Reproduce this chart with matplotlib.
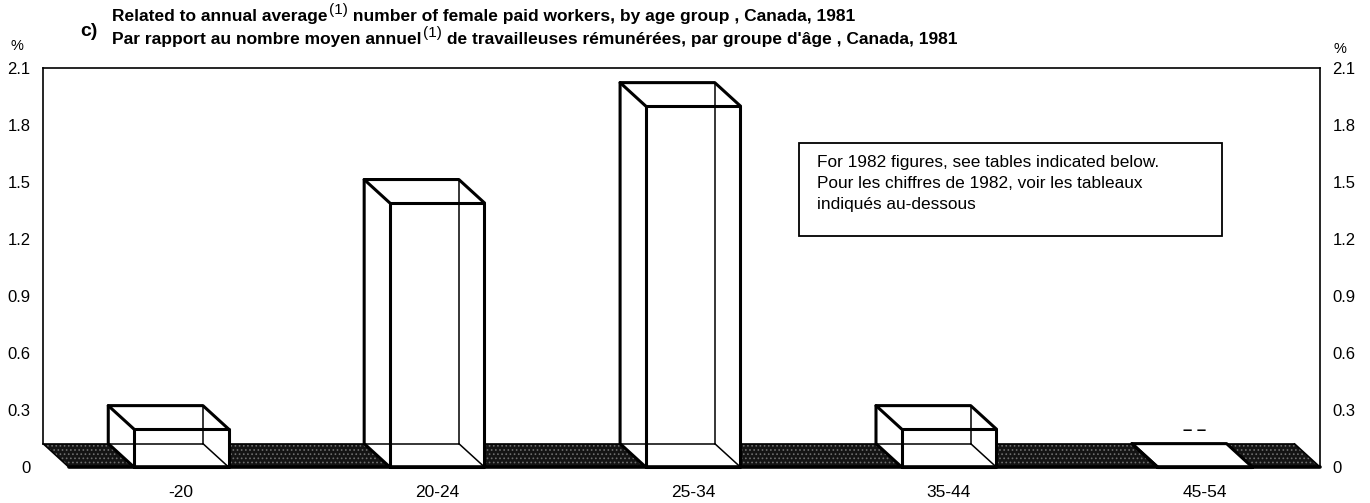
import matplotlib.pyplot as plt
from matplotlib.patches import Polygon, Rectangle
from matplotlib.ticker import FixedLocator

plt.rcParams['font.family'] = ['Liberation Sans', 'DejaVu Sans']
plt.rcParams['hatch.linewidth'] = 0.7

# rates per 100 female paid workers (%), Canada 1981
age_groups = ['-20', '20-24', '25-34', '35-44', '45-54']
rates = [0.2, 1.39, 1.9, 0.2, 0.0]

y_ticks = [0, 0.3, 0.6, 0.9, 1.2, 1.5, 1.8, 2.1]
y_labels = ['0', '0.3', '0.6', '0.9', '1.2', '1.5', '1.8', '2.1']

# title pieces: (text, superscript?)
title_en = [('Related to annual average', False), ('(1)', True),
            (' number of female paid workers, by age group , Canada, 1981', False)]
title_fr = [('Par rapport au nombre moyen annuel', False), ('(1)', True),
            (" de travailleuses rémunérées, par groupe d'âge , Canada, 1981", False)]
note_lines = ['For 1982 figures, see tables indicated below.',
              'Pour les chiffres de 1982, voir les tableaux',
              'indiqués au-dessous']
nil_mark = '– –'

# box geometry (data units)
BAR_W = 0.37
DX = 0.1     # depth shift to the left
DY = 0.123   # depth shift upwards
THICK = 2.2
THIN = 1.1
TITLE_SIZE = 12.5

fig = plt.figure(figsize=(13.7, 5.03), dpi=100)
ax = fig.add_axes([43 / 1370, 36 / 503, 1277 / 1370, 399 / 503])
xmin, xmax = -0.54, 4.45
ax.set_xlim(xmin, xmax)
ax.set_ylim(0, 2.1)


def line(xs, ys, lw, z=3):
    ax.plot(xs, ys, color='black', lw=lw, solid_capstyle='round',
            solid_joinstyle='round', zorder=z, clip_on=False)


# dark floor running under all the boxes
floor = Polygon([(xmin + DX, 0), (xmax, 0), (xmax - DX, DY), (xmin, DY)],
                closed=True, facecolor='#141414', edgecolor='#6e6e6e',
                hatch='....', lw=0, zorder=1, clip_on=False)
ax.add_patch(floor)
line([xmin, xmax - DX], [DY, DY], THIN, 1.5)
line([xmin, xmin + DX], [DY, 0], THIN, 1.5)
line([xmax - DX, xmax], [DY, 0], THIN, 1.5)

for i, v in enumerate(rates):
    L, R = i - BAR_W / 2, i + BAR_W / 2
    shape = Polygon([(L, 0), (R, 0), (R, v), (R - DX, v + DY), (L - DX, v + DY), (L - DX, DY)],
                    closed=True, facecolor='white', edgecolor='none', zorder=2)
    ax.add_patch(shape)
    # hidden edges seen through the box
    line([R - DX, R - DX], [DY, v + DY], THIN)
    line([L - DX, R - DX], [DY, DY], THIN)
    line([R - DX, R], [DY, 0], THIN)
    # front face, top and left outline
    line([L, R, R, L, L], [0, 0, v, v, 0], THICK)
    line([L, L - DX, R - DX, R], [v, v + DY, v + DY, v], THICK)
    line([L - DX, L - DX, L], [v + DY, DY, 0], THICK)
    if v == 0:
        ax.text(i - DX * 0.4, DY + 0.07, nil_mark, ha='center', va='center',
                fontsize=12, fontweight='bold', zorder=4)

# floor front edge
line([xmin + DX, xmax], [0, 0], 2.6, 4)

# axes frame and ticks
ax.spines['bottom'].set_visible(False)
for side in ['left', 'right', 'top']:
    ax.spines[side].set_linewidth(1.2)
ax.spines['left'].set_bounds(DY, 2.1)

ax.set_yticks(y_ticks, y_labels)
ax.tick_params(axis='y', which='major', length=0, left=True, right=True,
               labelleft=True, labelright=True, labelsize=12, pad=9)
ax.yaxis.set_minor_locator(FixedLocator(y_ticks[1:-1]))
ax.tick_params(axis='y', which='minor', direction='in', length=18, width=1.8,
               left=True, right=True)

ax.set_xticks(range(len(age_groups)), age_groups)
ax.tick_params(axis='x', length=0, pad=13, labelsize=12.5)

fig.text(17 / 1370, 1 - 46 / 503, '%', ha='center', va='center', fontsize=10.5)
fig.text(1340 / 1370, 1 - 49 / 503, '%', ha='center', va='center', fontsize=10.5)


def title_line(x, y, parts):
    first = fig.text(x, y, parts[0][0], ha='left', va='bottom',
                     fontsize=TITLE_SIZE, fontweight='bold')
    prev = first
    for txt, sup in parts[1:]:
        if sup:
            prev = ax.annotate(txt, xy=(1, 0), xycoords=(prev, first),
                               xytext=(1, 5), textcoords='offset points',
                               ha='left', va='bottom', fontsize=11,
                               annotation_clip=False)
        else:
            prev = ax.annotate(txt, xy=(1, 0), xycoords=(prev, first),
                               ha='left', va='bottom', fontsize=TITLE_SIZE,
                               fontweight='bold', annotation_clip=False)


fig.text(80 / 1370, 1 - 31 / 503, 'c)', ha='left', va='center', fontsize=14, fontweight='bold')
title_line(112 / 1370, 1 - 24 / 503, title_en)
title_line(112 / 1370, 1 - 47 / 503, title_fr)

# note box
fig.patches.append(Rectangle((799 / 1370, 1 - 236 / 503), 423 / 1370, 93 / 503,
                             transform=fig.transFigure, facecolor='white',
                             edgecolor='black', lw=1.3, zorder=5))
for k, txt in enumerate(note_lines):
    fig.text(817 / 1370, 1 - (162 + 21.5 * k) / 503, txt, ha='left', va='center',
             fontsize=12.4, zorder=6)

fig.savefig('out.png', dpi=100, facecolor='white')
